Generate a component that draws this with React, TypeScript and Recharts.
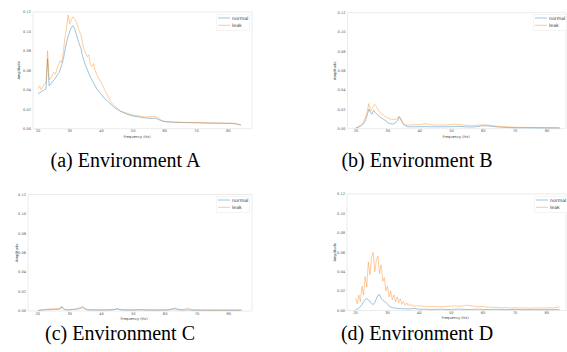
import React from 'react';
import { LineChart, Line, XAxis, YAxis, ReferenceArea, Legend } from 'recharts';

const FREQ = [
  20, 20.5, 21, 21.5, 22, 22.5, 23, 23.5, 24, 24.5,
  25, 25.5, 26, 26.5, 27, 27.5, 28, 28.5, 29, 29.5,
  30, 30.5, 31, 31.5, 32, 32.5, 33, 33.5, 34, 34.5,
  35, 35.5, 36, 36.5, 37, 37.5, 38, 38.5, 39, 39.5,
  40,
  41, 42, 43, 44, 45, 46, 47, 48, 49, 50,
  51, 52, 53, 54, 55, 56, 57, 58, 59, 60,
  61, 62, 63, 64, 65, 66, 67, 68, 69, 70,
  71, 72, 73, 74, 75, 76, 77, 78, 79, 80,
  81, 82, 83, 84,
];

const A_NORMAL = [
  0.036, 0.037, 0.038, 0.039, 0.040, 0.041, 0.072, 0.044, 0.046, 0.048,
  0.050, 0.052, 0.055, 0.057, 0.061, 0.066, 0.072, 0.081, 0.089, 0.095,
  0.100, 0.104, 0.106, 0.103, 0.098, 0.092, 0.087, 0.083, 0.075, 0.070,
  0.065, 0.061, 0.057, 0.053, 0.050, 0.047, 0.044, 0.041, 0.039, 0.037,
  0.035,
  0.031, 0.028, 0.025, 0.022, 0.020, 0.018, 0.0165, 0.015, 0.014, 0.013,
  0.0125, 0.012, 0.0115, 0.011, 0.0108, 0.0105, 0.011, 0.0095, 0.008, 0.0072,
  0.007, 0.0068, 0.0066, 0.0065, 0.0064, 0.0063, 0.0062, 0.0062, 0.0061, 0.006,
  0.006, 0.0059, 0.0058, 0.0058, 0.0057, 0.0057, 0.0056, 0.0056, 0.0055, 0.0055,
  0.0054, 0.0052, 0.0045, 0.0038,
];
const A_LEAK = [
  0.041, 0.044, 0.040, 0.043, 0.046, 0.047, 0.080, 0.050, 0.052, 0.055,
  0.058, 0.056, 0.062, 0.066, 0.070, 0.068, 0.080, 0.094, 0.104, 0.117,
  0.108, 0.112, 0.115, 0.113, 0.111, 0.105, 0.100, 0.097, 0.089, 0.081,
  0.078, 0.074, 0.076, 0.066, 0.064, 0.067, 0.060, 0.056, 0.052, 0.050,
  0.047,
  0.040, 0.034, 0.027, 0.024, 0.021, 0.018, 0.017, 0.016, 0.015, 0.014,
  0.0135, 0.013, 0.0125, 0.012, 0.0122, 0.0125, 0.0128, 0.0105, 0.0085, 0.0075,
  0.0072, 0.007, 0.0068, 0.0068, 0.0066, 0.0066, 0.0065, 0.0064, 0.0064, 0.0063,
  0.0065, 0.0062, 0.006, 0.006, 0.0059, 0.0059, 0.0058, 0.0058, 0.0057, 0.0057,
  0.0056, 0.0054, 0.0046, 0.0039,
];

const B_NORMAL = [
  0.001, 0.0015, 0.002, 0.003, 0.004, 0.006, 0.009, 0.014, 0.020, 0.017,
  0.015, 0.019, 0.017, 0.015, 0.0135, 0.012, 0.011, 0.010, 0.009, 0.008,
  0.006, 0.0055, 0.005, 0.0048, 0.0055, 0.0065, 0.008, 0.012, 0.010, 0.0065,
  0.004, 0.003, 0.0025, 0.002, 0.002, 0.002, 0.002, 0.002, 0.002, 0.0021,
  0.0021,
  0.002, 0.0022, 0.002, 0.002, 0.002, 0.0019, 0.002, 0.002, 0.002, 0.0021,
  0.0022, 0.0024, 0.0023, 0.002, 0.0018, 0.0017, 0.0018, 0.0022, 0.0027, 0.003,
  0.003, 0.0028, 0.0024, 0.002, 0.0017, 0.0015, 0.0013, 0.0012, 0.0011, 0.001,
  0.001, 0.001, 0.001, 0.001, 0.0009, 0.0009, 0.0009, 0.0009, 0.0009, 0.0008,
  0.0008, 0.0008, 0.0008, 0.0008,
];
const B_LEAK = [
  0.001, 0.0015, 0.0025, 0.004, 0.0055, 0.008, 0.012, 0.018, 0.026, 0.018,
  0.021, 0.024, 0.025, 0.022, 0.019, 0.017, 0.0155, 0.0145, 0.013, 0.012,
  0.011, 0.0105, 0.0098, 0.0096, 0.0095, 0.0098, 0.0105, 0.013, 0.011, 0.0075,
  0.005, 0.004, 0.0038, 0.0037, 0.004, 0.0038, 0.0042, 0.004, 0.0045, 0.004,
  0.0042,
  0.0048, 0.0052, 0.0045, 0.004, 0.0038, 0.0037, 0.0038, 0.0037, 0.004, 0.0044,
  0.0046, 0.0044, 0.004, 0.0036, 0.0034, 0.0033, 0.0034, 0.0036, 0.0039, 0.004,
  0.0038, 0.0035, 0.003, 0.0027, 0.0025, 0.0022, 0.002, 0.0018, 0.0016, 0.0015,
  0.0014, 0.0014, 0.0013, 0.0013, 0.0012, 0.0012, 0.0012, 0.0011, 0.0011, 0.0011,
  0.001, 0.001, 0.001, 0.001,
];

const C_NORMAL = [
  0.0004, 0.0006, 0.0008, 0.001, 0.0012, 0.0013, 0.0013, 0.0014, 0.0015, 0.0015,
  0.0016, 0.0017, 0.0016, 0.0018, 0.002, 0.0042, 0.0022, 0.0014, 0.0012, 0.0011,
  0.0012, 0.0014, 0.0016, 0.0018, 0.002, 0.0024, 0.003, 0.0036, 0.0045, 0.0035,
  0.0022, 0.0014, 0.0012, 0.0011, 0.001, 0.001, 0.001, 0.0011, 0.001, 0.001,
  0.001,
  0.001, 0.0011, 0.0012, 0.0015, 0.0025, 0.0013, 0.001, 0.001, 0.001, 0.001,
  0.0012, 0.0013, 0.0012, 0.001, 0.001, 0.0009, 0.0009, 0.001, 0.001, 0.001,
  0.0012, 0.002, 0.003, 0.0018, 0.0012, 0.001, 0.0012, 0.001, 0.0009, 0.0009,
  0.0009, 0.0008, 0.0008, 0.0008, 0.0008, 0.0008, 0.0008, 0.0008, 0.0008, 0.0008,
  0.0008, 0.0008, 0.0008, 0.0008,
];
const C_LEAK = [
  0.0006, 0.0009, 0.0012, 0.0014, 0.0016, 0.0018, 0.0019, 0.002, 0.0021, 0.0022,
  0.0022, 0.0023, 0.0024, 0.0026, 0.0032, 0.005, 0.0028, 0.0018, 0.0015, 0.0014,
  0.0014, 0.0015, 0.0016, 0.0017, 0.0018, 0.002, 0.0022, 0.0026, 0.003, 0.0024,
  0.0018, 0.0015, 0.0014, 0.0013, 0.0013, 0.0012, 0.0012, 0.0013, 0.0012, 0.0012,
  0.0012,
  0.0012, 0.0013, 0.0013, 0.0015, 0.0018, 0.0014, 0.0012, 0.0012, 0.0012, 0.0012,
  0.0013, 0.0013, 0.0013, 0.0012, 0.0012, 0.0011, 0.0011, 0.0011, 0.0012, 0.0012,
  0.0012, 0.0015, 0.0014, 0.0012, 0.0012, 0.0015, 0.0032, 0.0018, 0.0012, 0.0011,
  0.0011, 0.001, 0.001, 0.001, 0.001, 0.001, 0.001, 0.001, 0.001, 0.001,
  0.001, 0.001, 0.001, 0.001,
];

const D_NORMAL = [
  0.0008, 0.0015, 0.0025, 0.004, 0.006, 0.009, 0.0115, 0.0122, 0.011, 0.009,
  0.0075, 0.006, 0.008, 0.012, 0.0155, 0.0165, 0.0125, 0.0105, 0.0095, 0.0085,
  0.0065, 0.0045, 0.0035, 0.003, 0.0026, 0.0024, 0.0022, 0.002, 0.002, 0.0019,
  0.0018, 0.0017, 0.0017, 0.0016, 0.0016, 0.0018, 0.002, 0.002, 0.0018, 0.0015,
  0.0013,
  0.0012, 0.0014, 0.0012, 0.001, 0.0011, 0.0012, 0.0013, 0.0012, 0.001, 0.0011,
  0.0013, 0.0014, 0.0013, 0.0012, 0.0011, 0.001, 0.0012, 0.0014, 0.0013, 0.0011,
  0.001, 0.001, 0.0011, 0.0012, 0.0011, 0.001, 0.001, 0.0009, 0.001, 0.0011,
  0.001, 0.0009, 0.0009, 0.001, 0.001, 0.0009, 0.0009, 0.0009, 0.0009, 0.0009,
  0.0009, 0.0009, 0.001, 0.0012,
];
const D_LEAK = [
  0.013, 0.007, 0.016, 0.009, 0.025, 0.016, 0.035, 0.024, 0.050, 0.037,
  0.055, 0.060, 0.040, 0.052, 0.056, 0.038, 0.047, 0.030, 0.034, 0.020,
  0.025, 0.014, 0.020, 0.011, 0.016, 0.009, 0.014, 0.008, 0.012, 0.0065,
  0.0095, 0.0055, 0.008, 0.005, 0.007, 0.0045, 0.006, 0.004, 0.0055, 0.004,
  0.005,
  0.0045, 0.0042, 0.004, 0.0038, 0.0042, 0.004, 0.0038, 0.0042, 0.0045, 0.0043,
  0.0048, 0.0045, 0.0042, 0.005, 0.0055, 0.0048, 0.0045, 0.004, 0.0038, 0.0042,
  0.0035, 0.0032, 0.0035, 0.003, 0.0032, 0.0028, 0.003, 0.0028, 0.0025, 0.0028,
  0.0026, 0.0027, 0.0025, 0.0026, 0.0025, 0.0027, 0.0026, 0.0025, 0.0026, 0.0027,
  0.0028, 0.0027, 0.003, 0.004,
];

const X_TICKS = [20, 30, 40, 50, 60, 70, 80];
const Y_TICKS = [0, 0.02, 0.04, 0.06, 0.08, 0.1, 0.12];
const SERIES_NAMES = ['normal', 'leak'];
const CAPTIONS = ['(a) Environment A', '(b) Environment B', '(c) Environment C', '(d) Environment D'];
const X_LABEL = 'Frequency (Hz)';
const Y_LABEL = 'Amplitude';

const BLUE = '#1f77b4';
const ORANGE = '#ff7f0e';
const FONT = '"DejaVu Sans", sans-serif';
const YW = 20;
const XH = 10;
const AXIS_FONT = 3.6;

function build(normal: number[], leak: number[]) {
  return FREQ.map((f, i) => ({ f, normal: normal[i], leak: leak[i] }));
}

const PANELS = [
  { data: build(A_NORMAL, A_LEAK), box: { x: 0, y: 0, w: 283, h: 170 }, plot: { l: 33, r: 252, t: 12, b: 128.7 }, domain: [18.4, 87.5], ylabX: 19.5, xlabX: 137, legend: { x: 216, y: 14 }, cap: { x: 125.5, y: 160 } },
  { data: build(B_NORMAL, B_LEAK), box: { x: 283, y: 0, w: 284, h: 170 }, plot: { l: 347.5, r: 566, t: 12.7, b: 128.7 }, domain: [17.3, 86], ylabX: 335, xlabX: 456, legend: { x: 533, y: 14 }, cap: { x: 417, y: 160 } },
  { data: build(C_NORMAL, C_LEAK), box: { x: 0, y: 170, w: 283, h: 182 }, plot: { l: 28, r: 252, t: 194.5, b: 311 }, domain: [16.9, 87.3], ylabX: 16.5, xlabX: 134, legend: { x: 216, y: 196 }, cap: { x: 120, y: 333 } },
  { data: build(D_NORMAL, D_LEAK), box: { x: 283, y: 170, w: 284, h: 182 }, plot: { l: 347, r: 566, t: 194, b: 310.5 }, domain: [17.3, 86], ylabX: 334.5, xlabX: 455, legend: { x: 534, y: 196 }, cap: { x: 417, y: 333 } },
];

const LegendBox = (props: any) => {
  const payload = [...(props.payload || [])].sort(
    (a: any, b: any) => SERIES_NAMES.indexOf(a.value) - SERIES_NAMES.indexOf(b.value)
  );
  return (
    <svg width={34} height={17} style={{ display: 'block' }}>
      <rect x={0.25} y={0.25} width={33.5} height={16.5} rx={1} fill="#fff" stroke="#e3e3e3" strokeWidth={0.5} />
      {payload.map((p: any, i: number) => (
        <g key={i}>
          <line x1={2} x2={14} y1={4 + i * 7.3} y2={4 + i * 7.3} stroke={p.color} strokeOpacity={0.55} strokeWidth={0.8} />
          <text x={16} y={4 + i * 7.3} dominantBaseline="central" fontSize={4.7} fontFamily={FONT} fill="#333">{p.value}</text>
        </g>
      ))}
    </svg>
  );
};

function Panel({ p }: { p: any }) {
  const { box, plot, domain } = p;
  const margin = {
    left: plot.l - box.x - YW,
    right: box.x + box.w - plot.r,
    top: plot.t - box.y,
    bottom: box.y + box.h - plot.b - XH,
  };
  const tick = { fontSize: AXIS_FONT, fill: '#555', fontFamily: FONT };
  return (
    <div style={{ position: 'absolute', left: box.x, top: box.y, width: box.w, height: box.h }}>
      <LineChart width={box.w} height={box.h} data={p.data} margin={margin}>
        <ReferenceArea x1={domain[0]} x2={domain[1]} y1={0} y2={0.12} fill="#fff" fillOpacity={0} stroke="#e6e6e6" strokeWidth={0.8} ifOverflow="visible" />
        <XAxis dataKey="f" type="number" domain={domain} ticks={X_TICKS} allowDataOverflow height={XH} axisLine={false} tickLine={false} tickSize={0} tick={tick} tickMargin={1.2} interval={0} />
        <YAxis type="number" domain={[0, 0.12]} ticks={Y_TICKS} width={YW} axisLine={false} tickLine={false} tickSize={0} tick={tick} tickMargin={2} interval={0}
          tickFormatter={(v: number) => v.toFixed(2)} />
        <Line type="linear" dataKey="normal" name={SERIES_NAMES[0]} stroke={BLUE} strokeOpacity={0.55} strokeWidth={0.8} dot={false} isAnimationActive={false} />
        <Line type="linear" dataKey="leak" name={SERIES_NAMES[1]} stroke={ORANGE} strokeOpacity={0.5} strokeWidth={0.8} dot={false} isAnimationActive={false} />
        <Legend layout="vertical" align="center" verticalAlign="middle" content={<LegendBox />}
          wrapperStyle={{ left: p.legend.x - box.x, top: p.legend.y - box.y, width: 34, height: 17, right: 'auto', bottom: 'auto' }} />
      </LineChart>
    </div>
  );
}

export default function App() {
  return (
    <div style={{ position: 'absolute', left: 0, top: 0, width: 567, height: 352, background: '#fff', overflow: 'hidden' }}>
      {PANELS.map((p, i) => <Panel key={i} p={p} />)}
      <svg width={567} height={352} style={{ position: 'absolute', left: 0, top: 0, pointerEvents: 'none' }}>
        {PANELS.map((p, i) => {
          const cy = (p.plot.t + p.plot.b) / 2;
          return (
            <g key={i}>
              <text x={p.ylabX} y={cy} transform={`rotate(-90 ${p.ylabX} ${cy})`} textAnchor="middle" dominantBaseline="central" fontSize={AXIS_FONT} fontFamily={FONT} fill="#444">
                {Y_LABEL}
              </text>
              <text x={p.xlabX} y={p.plot.b + 7.8} textAnchor="middle" dominantBaseline="central" fontSize={AXIS_FONT} fontFamily={FONT} fill="#444">
                {X_LABEL}
              </text>
            </g>
          );
        })}
      </svg>
      {PANELS.map((p, i) => (
        <div key={'c' + i} style={{ position: 'absolute', left: p.cap.x - 110, top: p.cap.y - 11, width: 220, height: 22, lineHeight: '22px', textAlign: 'center', fontFamily: '"Liberation Serif", "Times New Roman", serif', fontSize: 20, color: '#000' }}>
          {CAPTIONS[i]}
        </div>
      ))}
    </div>
  );
}
